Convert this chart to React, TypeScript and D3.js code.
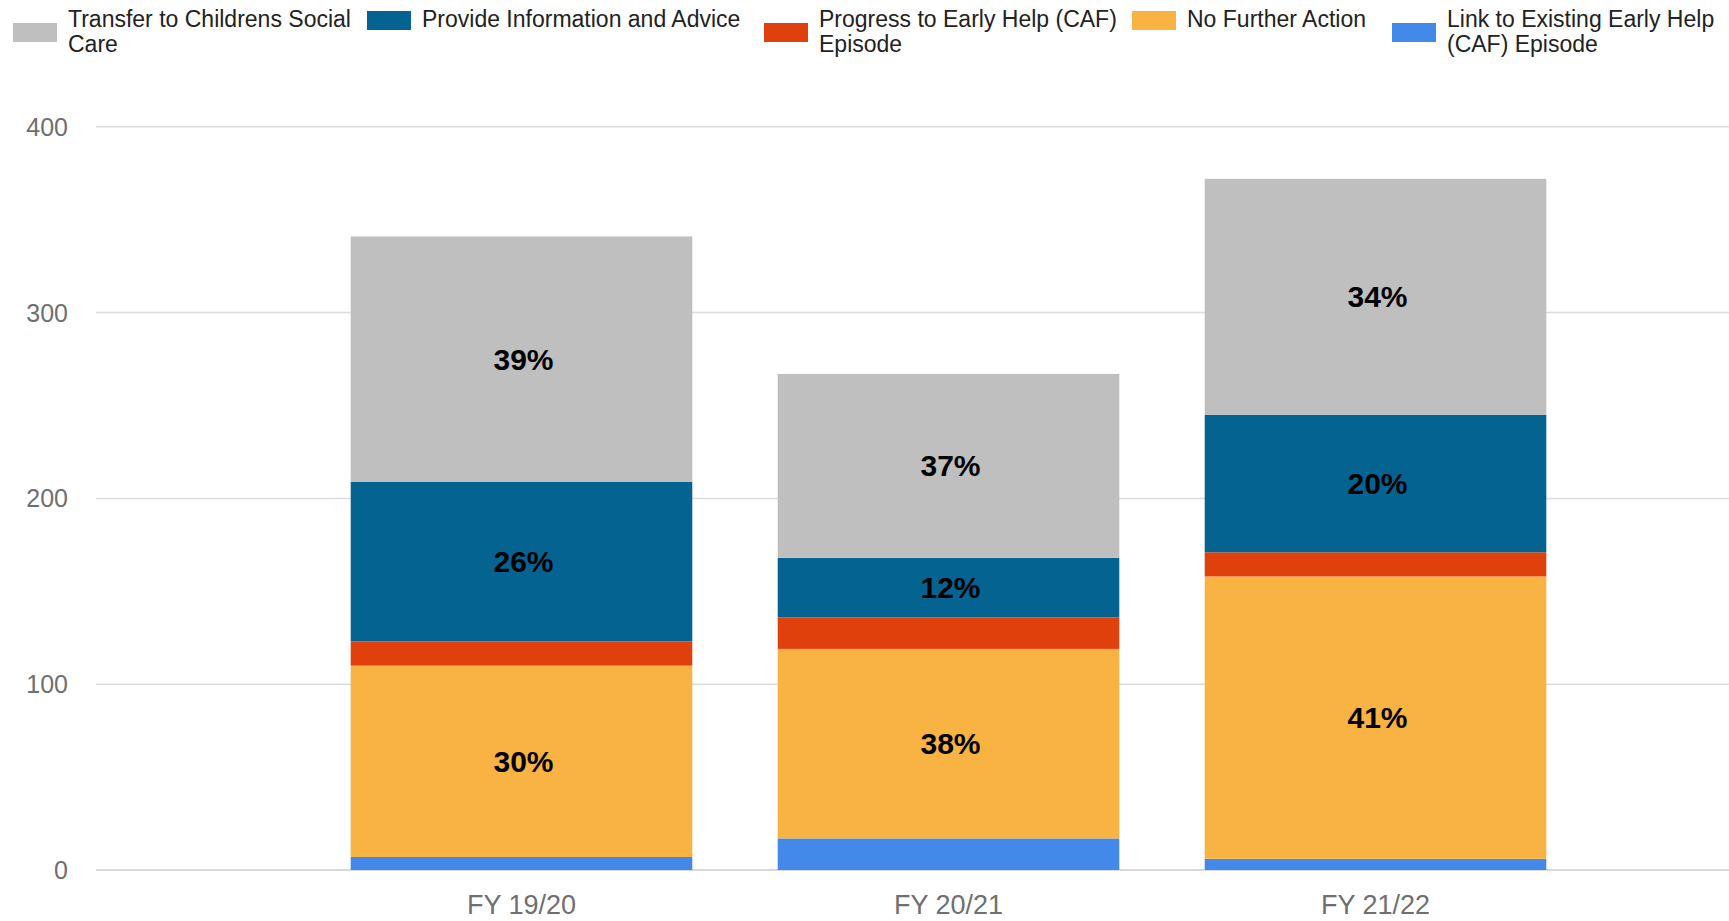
import React, { useEffect } from "react";
import * as d3 from "d3";

// ---------- data ----------
const categories = ["FY 19/20", "FY 20/21", "FY 21/22"];

// stacked bottom -> top
const linkExisting = [7, 17, 6];
const noFurtherAction = [103, 102, 152];
const progressEarlyHelp = [13, 17, 13];
const provideInfo = [86, 32, 74];
const transferCSC = [132, 99, 127];

const transferLabels = ["39%", "37%", "34%"];
const provideLabels = ["26%", "12%", "20%"];
const nfaLabels = ["30%", "38%", "41%"];

const yTicks = [0, 100, 200, 300, 400];

const seriesKeys = ["link", "nfa", "progress", "provide", "transfer"];
const seriesColors: Record<string, string> = {
  link: "#4289ea",
  nfa: "#f9b342",
  progress: "#e0400c",
  provide: "#056392",
  transfer: "#bfbfbf",
};

// legend (left -> right)
const legendKeys = ["transfer", "provide", "progress", "nfa", "link"];
const legendLines: string[][] = [
  ["Transfer to Childrens Social", "Care"],
  ["Provide Information and Advice"],
  ["Progress to Early Help (CAF)", "Episode"],
  ["No Further Action"],
  ["Link to Existing Early Help", "(CAF) Episode"],
];
const legendX = [13, 367, 764, 1132, 1392];

const W = 1729;
const H = 921;
const FONT = "'Liberation Sans', Arial, sans-serif";

export default function App() {
  useEffect(() => {
    document.body.style.margin = "0";
  }, []);

  const rows = categories.map((c, i) => ({
    cat: c,
    link: linkExisting[i],
    nfa: noFurtherAction[i],
    progress: progressEarlyHelp[i],
    provide: provideInfo[i],
    transfer: transferCSC[i],
  }));

  const stack = d3.stack<any>().keys(seriesKeys);
  const stacked = stack(rows);

  const x = d3
    .scaleBand<string>()
    .domain(categories)
    .range([308, 1589])
    .paddingInner(0.2)
    .paddingOuter(0.1);
  const y = d3.scaleLinear().domain([0, 400]).range([870, 126.8]);

  const labelMap: Record<string, string[]> = {
    transfer: transferLabels,
    provide: provideLabels,
    nfa: nfaLabels,
  };

  return (
    <svg
      width={W}
      height={H}
      style={{ position: "absolute", left: 0, top: 0, background: "#fff" }}
      fontFamily={FONT}
    >
      <rect x={0} y={0} width={W} height={H} fill="#fff" />
      {/* gridlines */}
      {yTicks.map((t) => (
        <g key={t}>
          <line
            x1={96}
            x2={W}
            y1={y(t)}
            y2={y(t)}
            stroke={t === 0 ? "#cccccc" : "#dcdcdc"}
            strokeWidth={1.5}
          />
          <text
            x={68}
            y={y(t)}
            textAnchor="end"
            dominantBaseline="central"
            fontSize={25}
            fill="#6f6f6f"
          >
            {t}
          </text>
        </g>
      ))}

      {/* bars */}
      {stacked.map((s) => (
        <g key={s.key} fill={seriesColors[s.key]}>
          {s.map((d, i) => (
            <rect
              key={i}
              x={x(categories[i])}
              y={y(d[1])}
              width={x.bandwidth()}
              height={y(d[0]) - y(d[1])}
            />
          ))}
        </g>
      ))}

      {/* data labels */}
      {stacked.map((s) =>
        labelMap[s.key]
          ? s.map((d, i) => (
              <text
                key={s.key + i}
                x={(x(categories[i]) as number) + x.bandwidth() / 2 + 2}
                y={(y(d[0]) + y(d[1])) / 2}
                textAnchor="middle"
                dominantBaseline="central"
                fontSize={30}
                fontWeight="bold"
                fill="#000"
              >
                {labelMap[s.key][i]}
              </text>
            ))
          : null
      )}

      {/* x labels */}
      {categories.map((c) => (
        <text
          key={c}
          x={(x(c) as number) + x.bandwidth() / 2}
          y={905}
          textAnchor="middle"
          dominantBaseline="central"
          fontSize={27}
          fill="#6f6f6f"
        >
          {c}
        </text>
      ))}

      {/* legend */}
      {legendKeys.map((k, i) => {
        const lines = legendLines[i];
        const two = lines.length > 1;
        const sy = two ? 23 : 11;
        return (
          <g key={k}>
            <rect
              x={legendX[i]}
              y={sy}
              width={44}
              height={19}
              fill={seriesColors[k]}
            />
            {lines.map((ln, j) => (
              <text
                key={j}
                x={legendX[i] + 55}
                y={27 + j * 25}
                fontSize={23}
                fill="#222"
              >
                {ln}
              </text>
            ))}
          </g>
        );
      })}
    </svg>
  );
}
